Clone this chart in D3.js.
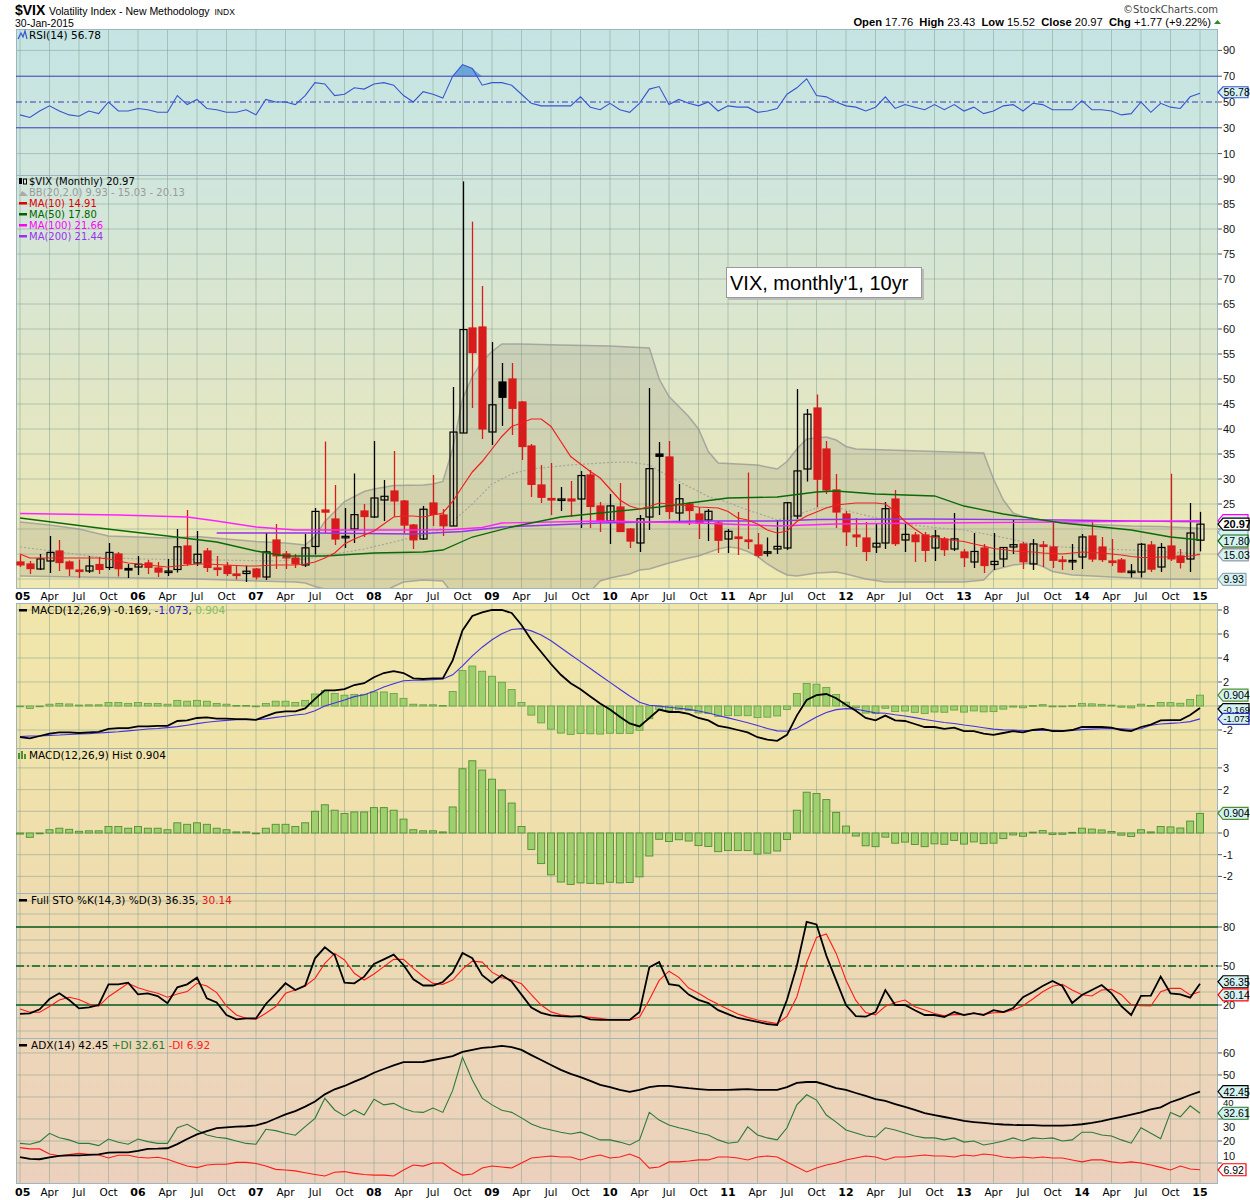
<!DOCTYPE html>
<html><head><meta charset="utf-8">
<script src="https://cdn.jsdelivr.net/npm/d3@7"></script>
<style>body{margin:0;background:#fff}svg{display:block}</style>
</head><body>
<svg id="c" width="1250" height="1200"></svg>
<script>
// ---------------- DATA (monthly, Jan 2005 .. Jan 2015) ----------------
const yearLabels = ["05","06","07","08","09","10","11","12","13","14","15"];
const quarterLabels = ["Apr","Jul","Oct"];

const open = [13.4,13.0,12.0,13.6,15.6,13.4,11.8,11.6,12.9,12.3,15.0,12.1,
12.4,13.2,12.2,11.4,11.9,16.6,13.2,15.6,12.2,12.6,11.0,11.1,
12.0,10.4,17.8,15.0,14.2,12.8,16.5,23.8,22.0,18.4,20.0,23.6,
22.4,25.8,27.6,25.6,20.8,18.0,25.2,22.8,20.6,39.2,60.2,60.4,
39.4,49.4,50.0,45.4,36.6,28.8,26.1,26.0,26.0,26.0,30.8,24.6,
21.6,24.4,20.0,17.2,22.4,35.0,34.4,23.2,25.0,23.0,21.8,21.2,
18.0,18.4,17.8,16.8,15.2,16.0,16.2,22.6,32.0,44.2,36.0,27.8,
23.0,18.8,18.2,16.4,17.2,26.0,17.8,18.8,18.8,16.2,18.0,16.0,
15.4,13.4,16.2,12.9,14.0,16.4,17.0,13.0,16.8,16.4,13.8,13.7,
14.4,18.6,16.4,13.6,13.8,11.5,11.4,16.8,12.4,16.6,14.6,14.0,
17.76];
const high = [14.8,13.6,15.0,18.6,17.8,13.7,13.9,14.6,14.4,17.2,15.4,13.0,
14.6,13.8,13.4,14.0,20.0,23.8,19.6,16.2,14.6,13.4,12.6,12.7,
12.2,19.2,21.0,15.6,15.0,19.0,24.2,37.5,28.8,24.2,31.1,25.0,
37.6,29.8,35.6,25.8,21.0,24.6,30.8,24.0,48.4,89.53,81.48,68.6,
57.4,53.2,53.2,45.6,37.0,32.8,33.2,28.4,29.6,31.6,31.8,25.4,
27.0,29.2,20.2,22.8,48.2,37.4,37.6,29.0,25.4,24.4,24.0,21.6,
20.0,23.4,31.3,19.2,18.3,21.8,25.4,48.0,44.0,46.9,37.6,31.0,
23.6,22.2,21.4,21.2,25.4,27.8,21.2,19.4,19.4,19.8,18.4,23.2,
16.0,19.2,17.0,19.2,16.4,22.0,17.4,18.0,17.6,21.2,14.6,17.0,
19.0,21.6,18.4,18.0,14.2,13.0,17.2,17.6,17.2,31.06,16.0,25.2,
23.43];
const low = [12.4,11.0,11.8,11.2,11.6,10.6,10.2,11.2,11.0,11.8,10.5,10.2,
10.8,11.0,10.4,10.6,11.3,12.6,12.6,11.4,10.6,10.6,9.9,9.4,
9.9,9.8,12.0,12.0,12.2,12.4,14.9,19.2,16.8,16.2,17.2,18.4,
22.2,21.6,22.4,19.2,16.0,17.8,20.6,18.6,20.6,39.2,44.2,38.0,
36.8,40.6,38.8,33.8,26.4,25.2,22.8,23.6,22.4,20.2,20.2,19.4,
17.0,19.4,16.2,15.4,19.8,22.8,22.0,21.2,20.8,18.0,17.6,15.2,
15.2,14.8,16.0,14.3,14.5,15.0,15.8,22.0,29.5,24.4,27.0,20.2,
16.6,16.4,13.6,15.2,16.0,16.6,15.4,13.4,13.4,13.6,14.6,15.6,
12.4,12.2,11.2,11.8,12.4,15.0,12.0,11.8,12.4,12.2,11.8,11.8,
12.0,13.4,13.4,12.6,11.2,10.3,10.3,11.4,11.4,13.6,12.1,11.4,
15.52];
const close = [12.82,12.08,14.02,15.31,13.29,12.04,11.57,12.60,11.92,15.32,12.06,12.07,
12.95,12.34,11.39,11.59,16.44,13.08,14.95,12.31,11.98,11.10,10.91,11.56,
10.42,15.42,14.64,14.22,13.05,16.23,23.52,23.38,18.00,18.53,22.87,22.50,
26.20,26.54,25.61,20.79,17.83,23.95,22.94,20.65,39.39,59.89,55.28,40.00,
44.84,46.35,44.14,36.50,28.92,26.35,25.92,26.01,25.61,30.69,24.51,21.68,
24.62,19.50,17.59,22.05,32.07,34.54,23.50,26.05,23.70,21.20,23.54,17.75,
19.53,18.35,17.74,14.75,15.45,16.52,25.25,31.62,42.96,29.96,27.80,23.40,
19.44,18.43,15.50,17.15,24.06,17.08,18.93,17.47,15.73,18.60,15.87,18.02,
14.28,15.51,12.70,13.52,16.30,16.86,13.45,17.01,16.60,13.75,13.70,13.72,
18.41,14.00,13.88,13.41,11.40,11.57,16.95,11.98,16.31,14.03,13.33,19.20,
20.97];
const prevClose0 = 13.29;

const rsi = [40,38,43,47,43,40,39,43,41,50,43,43,
45,44,42,42,55,48,52,45,44,42,42,44,
40,52,50,50,48,55,65,64,55,56,61,60,
64,65,63,55,50,58,56,53,70,79,76,63,
65,65,63,56,49,47,47,47,47,54,46,44,
49,44,42,49,60,62,48,52,49,47,50,43,
47,46,46,42,43,45,56,61,68,55,54,50,
47,46,43,46,54,45,48,46,44,48,44,48,
43,46,41,43,47,48,43,49,48,44,44,44,
51,44,44,43,40,41,50,42,49,46,45,54,
56.78];

const ma10 = [15.0,14.2,14.2,14.2,14.2,14.2,14.2,14.2,14.2,14.0,13.6,13.2,
13.0,12.8,12.6,12.4,12.6,12.8,13.0,13.0,12.9,12.8,12.7,12.6,
12.6,12.7,12.8,12.8,12.8,13.0,13.4,14.2,15.2,17.0,18.0,18.8,
19.6,21.0,22.4,22.6,22.6,22.4,22.8,23.2,25.5,28.5,31.4,33.5,
36.0,38.5,40.5,41.2,42.0,42.0,40.5,37.5,34.5,33.0,31.5,30.2,
28.0,25.8,24.6,24.0,24.5,25.2,25.0,24.8,24.6,24.4,24.3,24.2,
23.5,22.2,21.8,21.0,19.8,19.2,19.6,21.5,22.6,23.4,24.2,24.8,
25.0,25.2,25.2,25.2,25.0,23.5,21.5,20.0,18.7,18.3,18.0,17.7,
17.5,17.0,16.6,16.1,15.9,15.6,15.5,15.4,15.2,15.1,15.0,15.2,
15.4,15.3,15.2,15.0,14.8,14.5,14.3,14.3,14.4,14.4,14.4,14.6,
14.91];
const ma50 = [[0,22.2],[8,20.2],[15,18.6],[20,17.4],[24,15.6],[27,14.6],[31,14.6],[36,15.2],[41,15.4],[43,15.8],[46,18.4],[50,20.4],[55,22.4],[60,23.4],[65,24.4],[72,26.2],[77,26.4],[81,27.4],[83,27.6],[87,27.0],[93,26.6],[96,24.6],[100,23.0],[106,21.2],[113,19.8],[117,18.4],[120,17.8]];
const ma100 = [[0,23.1],[10,22.8],[17,22.4],[20,21.6],[24,20.4],[28,19.8],[41,19.8],[44,19.9],[47,20.3],[49,21.2],[59,21.6],[69,21.2],[77,20.6],[80,20.8],[83,21.0],[93,21.2],[106,21.4],[120,21.66]];
const ma200 = [[20,19.2],[30,19.2],[40,19.0],[45,19.5],[49,20.4],[59,21.2],[69,21.6],[77,21.6],[81,21.9],[92,22.0],[106,21.8],[120,21.44]];
const bbUpper = [[0,21.4],[3,20.8],[6,20.0],[9,18.6],[12,18.4],[15,18.2],[18,18.5],[21,18.0],[24,17.5],[27,17.2],[29,16.8],[30,18.5],[31,21.5],[32,23.5],[33,25.5],[34,26.5],[35,27.5],[36,28.0],[38,28.7],[41,28.8],[42,29.0],[43,29.5],[44,36.0],[45,46.0],[46,50.5],[47,53.5],[48,55.5],[49,57.0],[51,57.0],[55,56.8],[60,56.6],[64,56.2],[65,50.0],[66,46.5],[67,44.5],[68,42.5],[69,40.0],[70,35.5],[71,33.2],[75,32.8],[77,32.0],[78,33.5],[79,36.0],[80,38.0],[82,38.4],[83,37.8],[84,36.5],[85,36.0],[98,35.2],[99,30.0],[100,25.8],[101,23.2],[102,22.5],[104,21.7],[106,21.2],[108,21.0],[113,20.6],[116,20.5],[120,20.13]];
const bbMid = [[0,16.4],[4,15.4],[8,14.4],[12,14.0],[20,13.8],[26,13.6],[29,14.0],[32,15.0],[35,16.0],[38,17.4],[40,18.4],[42,19.2],[44,21.5],[46,25.0],[48,29.0],[50,31.0],[52,32.0],[56,32.8],[60,33.3],[62,33.4],[64,32.8],[66,30.5],[68,28.5],[70,26.5],[72,25.3],[74,23.8],[76,22.5],[77,21.8],[79,22.8],[81,24.2],[83,24.4],[85,23.2],[88,21.8],[90,21.0],[93,20.3],[96,19.8],[100,18.3],[103,17.0],[106,16.4],[110,16.0],[113,15.8],[117,15.4],[120,15.03]];
const bbLower = [[0,10.6],[6,10.4],[12,10.2],[18,10.0],[24,9.6],[28,9.4],[29,9.2],[30,8.5],[31,8.0],[32,7.0],[34,6.0],[36,6.5],[38,8.5],[39,9.4],[41,9.8],[43,9.6],[44,7.0],[45,0],[46,-3],[50,-4],[54,-2],[56,2],[57,5],[58,7.5],[59,9.6],[60,10.2],[62,11.0],[63,11.8],[64,12.0],[66,13.2],[68,14.2],[69,14.6],[71,16.0],[72,16.4],[73,16.2],[74,15.5],[75,14.5],[76,13.0],[77,11.8],[78,10.8],[79,10.6],[81,11.2],[83,11.4],[84,11.0],[86,10.0],[88,9.4],[96,9.4],[97,9.6],[98,9.8],[99,11.8],[101,12.8],[103,13.2],[104,12.5],[105,11.5],[107,10.8],[110,10.5],[115,10.0],[120,9.93]];

const macd = [-2.6,-2.7,-2.5,-2.3,-2.2,-2.2,-2.25,-2.2,-2.15,-1.9,-1.85,-1.85,
-1.7,-1.7,-1.65,-1.65,-1.25,-1.2,-1.0,-0.95,-1.05,-1.05,-1.1,-1.1,
-1.15,-0.85,-0.55,-0.45,-0.45,-0.2,0.6,1.3,1.3,1.4,1.75,1.9,
2.4,2.75,2.9,2.75,2.3,2.25,2.3,2.3,3.8,6.3,7.5,7.8,
8.0,8.0,7.75,6.75,5.5,4.5,3.5,2.6,1.9,1.4,0.8,0.2,
-0.3,-0.9,-1.45,-1.7,-1.0,-0.3,-0.5,-0.5,-0.65,-1.0,-1.2,-1.65,
-1.8,-2.0,-2.2,-2.6,-2.8,-2.9,-2.4,-0.8,0.5,0.9,1.0,0.65,
0.1,-0.4,-1.0,-1.2,-0.8,-1.2,-1.25,-1.5,-1.75,-1.75,-1.9,-1.8,
-2.1,-2.1,-2.3,-2.4,-2.25,-2.1,-2.2,-2.0,-1.9,-2.1,-2.1,-2.0,
-1.75,-1.75,-1.75,-1.8,-2.0,-2.1,-1.75,-1.55,-1.2,-1.17,-1.17,-0.75,
-0.169];
const signal = [-2.55,-2.5,-2.5,-2.45,-2.42,-2.37,-2.33,-2.3,-2.25,-2.2,-2.15,-2.07,
-2.0,-1.92,-1.87,-1.8,-1.72,-1.6,-1.47,-1.35,-1.27,-1.2,-1.15,-1.15,
-1.15,-1.07,-0.95,-0.85,-0.75,-0.67,-0.4,0.0,0.25,0.5,0.78,0.93,
1.23,1.58,1.85,2.11,2.15,2.15,2.2,2.25,2.6,3.34,4.17,4.9,
5.52,6.02,6.37,6.45,6.26,5.91,5.43,4.86,4.27,3.7,3.12,2.54,
1.97,1.4,0.83,0.32,0.06,-0.01,-0.11,-0.19,-0.28,-0.42,-0.58,-0.79,
-0.99,-1.19,-1.39,-1.63,-1.87,-2.07,-2.11,-1.85,-1.38,-0.92,-0.54,-0.3,
-0.22,-0.26,-0.41,-0.57,-0.61,-0.73,-0.83,-0.97,-1.12,-1.25,-1.38,-1.46,
-1.59,-1.69,-1.81,-1.93,-1.99,-2.01,-2.05,-2.04,-2.01,-2.03,-2.04,-2.03,
-1.97,-1.93,-1.89,-1.87,-1.9,-1.94,-1.9,-1.6,-1.5,-1.45,-1.4,-1.3,
-1.073];
const hist = [-0.05,-0.2,0.0,0.15,0.22,0.17,0.08,0.1,0.1,0.3,0.3,0.22,
0.3,0.22,0.22,0.15,0.47,0.4,0.47,0.4,0.22,0.15,0.05,0.05,
0.0,0.22,0.4,0.4,0.3,0.47,1.0,1.3,1.05,0.9,0.97,0.97,
1.17,1.17,1.05,0.64,0.15,0.1,0.1,0.05,1.2,2.96,3.33,2.9,
2.48,1.98,1.38,0.3,-0.76,-1.41,-1.93,-2.26,-2.37,-2.3,-2.32,-2.34,
-2.27,-2.3,-2.28,-2.02,-1.06,-0.29,-0.39,-0.31,-0.37,-0.58,-0.62,-0.86,
-0.81,-0.81,-0.81,-0.97,-0.93,-0.83,-0.3,1.05,1.88,1.82,1.54,0.95,
0.32,-0.14,-0.59,-0.63,-0.19,-0.47,-0.42,-0.53,-0.63,-0.5,-0.52,-0.34,
-0.51,-0.41,-0.49,-0.47,-0.26,-0.09,-0.15,0.04,0.11,-0.07,-0.06,0.03,
0.22,0.18,0.14,0.07,-0.1,-0.16,0.15,0.05,0.3,0.28,0.23,0.55,
0.904];

const stoK = [13.1,13.6,16.7,24.6,29,23.8,17.4,18.2,20,35.9,35.9,37.2,
28.2,29,26.9,21.3,33.6,35.9,41,25.1,22,12.3,9,9.7,
9.7,20.8,28.5,36.7,31.5,34.9,55.9,64.4,58.5,37.2,36.7,41.8,
51.5,55.1,58.7,50.8,39.8,35,35,37.7,45,60,56,43,
37,43,38,28,18,14,12,11.5,11,11.5,9,8.5,
8.5,8.5,8.5,14.6,49,53,36,35,28,24,21.5,16,
13,10,8.5,7,5.4,4.6,24,50,84,82,58,39,
20,11.5,11,14.6,31.5,20,20,16,12.3,12.3,10.8,14.6,
12.3,13.8,12.3,16,14.6,17.7,26,30,34.6,38.5,34.6,21.5,
27.7,31.5,35.4,29,19.2,12.3,27,27.2,41.8,29,28.2,25.6,
36.35];
const stoD = [17,14.5,14.4,18.8,23.8,26,24.3,20.8,19.2,26.4,31.5,36.7,
33.3,31,29,26,28.5,30.3,36.7,34.6,29.5,19.2,12.3,9.7,
9,13.6,18.8,29,31.5,34.6,40.5,52,59.7,54.6,44.4,39.2,
43.8,49.5,55.1,55.1,48.2,41.9,36.6,35.9,39.2,47.6,53.7,53,
45.3,41,39.3,36.3,28,20,14.7,12.5,11.5,11.3,10.5,9.7,
8.7,8.5,8.5,10.5,24,38.9,46,41.3,33,29,24.5,20.5,
16.8,13,10.5,8.5,7,5.7,11.3,26.2,52.7,72,74.7,59.7,
39,23.5,14.2,12.4,19,22,23.8,18.7,16.1,13.5,11.8,12.6,
12.6,13.6,12.8,14,14.3,16.1,19.4,24.6,30.2,34.4,35.9,31.5,
27.9,26.9,31.5,32,27.9,20.2,19.5,19.2,30.3,32.8,32.8,27.7,
30.14];

const adx = [12.7,11.9,11.7,12.6,13.2,13.5,13.5,13.7,13.9,14.7,14.8,14.8,
15.5,16.4,16.5,16.7,18.6,20.9,23,24.5,25.8,26.2,26.5,26.7,
27.1,28.3,30.2,32.1,33.6,35.6,37.9,41.2,43.5,45,47,48.8,
51,52.7,54.4,55.8,55.8,55.9,56.8,57.7,58.6,60.5,61.4,62.3,
62.7,63.2,62.7,61.4,59,56.8,54.5,52.3,50.5,49,47.3,45.5,
44.5,43.2,42.3,43.2,44.5,45,45,44.5,44,43.6,43.2,43.2,
43.2,43.4,43.6,43.2,43.2,43.2,44.5,46.4,46.8,46.8,45.5,44,
43.2,41.8,40.5,39,38.2,36.8,35.5,34.1,32.7,31.8,30.9,30,
29.1,28.6,28.2,27.8,27.5,27.3,27.2,27.2,27,27,27,27.2,
27.6,28.2,29,30,31,32,33,34.4,35.3,37.6,39.1,40.9,
42.45];
const plusDI = [18.9,18.5,19.7,23.5,21.5,20.5,18.9,18.9,17.9,20.9,19.4,18.5,
20.9,19.7,18.9,18.9,26,27.6,25,22.7,21.7,21.2,20,18.9,
18.5,25.3,24.7,23.5,22.6,26.5,30.3,39.4,34.1,31.4,34.1,31.8,
39,36.4,37.1,34.8,33.3,33,35,33,43,58,47.7,39.5,
36.4,34,33,30.5,27.7,26,25,24,23.2,24,22.3,20.5,
20.5,19.5,18.2,20.5,33,29.5,27.3,26,25,23.6,22.7,20.5,
19,19.5,26.4,22.7,21.4,20.5,26,36.4,41,38.6,31.8,28.6,
25,23.6,22.3,21.8,26,25,23.6,22.3,21.4,21.4,20.5,21.4,
19.5,20,18.2,19,20,21.4,20,21.4,21,21.4,20,20.5,
24,24,22.7,22.3,20.5,19,26,23.5,21,33,31,36,
32.61];
const minusDI = [17,16.4,16.4,14.1,13.3,13.8,14.4,14,13.6,12.3,13.5,13.5,
12.6,12.3,12.6,11.7,10.1,8.6,7.9,9.1,9.4,9.4,10.3,10.3,
9.8,8.6,7.1,6.8,6.4,5.6,4.8,4.1,5.8,6.1,5.3,4.8,
4.5,4.5,4.1,6.8,9.1,8.6,10,10,6.8,4.5,5,7.7,
8.6,8.2,7.7,10,12.3,12.7,13.2,12.7,12.7,11.4,12.7,13.6,
12.3,12.7,14.1,12.3,7.7,8.2,10.5,10.5,10.9,11.4,11.4,12.7,
12.7,12.3,11.4,12.7,13.2,12.7,10.5,8.2,5.9,7.7,9.1,10,
11.4,12.3,13.2,12.7,11.4,12.7,12.7,13.2,13.6,13.2,13.2,12.7,
13.6,13.2,14.1,13.6,12.7,12.3,12.7,12.3,12.7,12.3,12.3,11.4,
10.5,11.4,11.4,10.5,10,10.5,10,9.1,8.0,6.8,8.6,7.3,
6.92];

// ticks (labels hidden by value tags in the reference are left out)
const rsiTicks = [10,30,50,70,90];
const mainTicks = [25,30,35,40,45,50,55,60,65,70,75,80,85,90];
const mainGrid = [10,15,20,25,30,35,40,45,50,55,60,65,70,75,80,85,90];
const macdTicks = [8,6,4,2,-2];
const histTicks = [3,2,0,-1,-2];
const stoTicks = [80,50,20];
const adxTicks = [60,50,20];

// ---------------- DRAWING ----------------
const svg = d3.select("#c");
const FONT = "'DejaVu Sans', Verdana, sans-serif";
const ARIAL = "'Liberation Sans', Arial, sans-serif";
const L = 16, R = 1218;
const x = d3.scaleLinear().domain([0, 120]).range([20, 1200]);
const N = close.length;
const idx = d3.range(N);

const defs = svg.append("defs");
const grad = defs.append("linearGradient").attr("id","bg").attr("gradientUnits","userSpaceOnUse")
  .attr("x1",0).attr("y1",29).attr("x2",0).attr("y2",1183);
[[0,"#c4e4e3"],[0.1265,"#d0e6dd"],[0.30,"#dfe6c8"],[0.484,"#efe8b1"],[0.497,"#f0e6ab"],
 [0.623,"#f0e3aa"],[0.749,"#eedcb0"],[0.874,"#edd6b8"],[1,"#ebd1bd"]]
 .forEach(s => grad.append("stop").attr("offset", s[0]).attr("stop-color", s[1]));

const gridCol = "rgba(120,150,135,0.45)";
function makePanel(name, top, bottom, domain, gridVals, tickVals, tickOnly) {
  const y = d3.scaleLinear().domain(domain).range([bottom, top]);
  const g = svg.append("g");
  defs.append("clipPath").attr("id", "clip-" + name).append("rect")
    .attr("x", L).attr("y", top).attr("width", R - L).attr("height", bottom - top);
  g.append("rect").attr("x", L).attr("y", top).attr("width", R - L).attr("height", bottom - top).attr("fill", "url(#bg)");
  for (let i = 0; i <= 120; i += 3) {
    g.append("line").attr("x1", x(i)).attr("x2", x(i)).attr("y1", top).attr("y2", bottom)
      .attr("stroke", gridCol).attr("stroke-width", 1);
  }
  gridVals.forEach(v => {
    g.append("line").attr("x1", L).attr("x2", R).attr("y1", y(v)).attr("y2", y(v))
      .attr("stroke", gridCol).attr("stroke-width", 1);
  });
  g.append("rect").attr("x", L + 0.5).attr("y", top + 0.5).attr("width", R - L - 1).attr("height", bottom - top)
    .attr("fill", "none").attr("stroke", "#9db5bd").attr("stroke-width", 1);
  (tickOnly || []).concat(tickVals).forEach(v => {
    svg.append("line").attr("x1", R).attr("x2", R + 4).attr("y1", y(v)).attr("y2", y(v)).attr("stroke", "#555");
  });
  tickVals.forEach(v => {
    svg.append("text").attr("x", R + 5).attr("y", y(v) + 4).text(v)
      .attr("font-family", ARIAL).attr("font-size", 11).attr("fill", "#111");
  });
  const inner = svg.append("g").attr("clip-path", "url(#clip-" + name + ")");
  return { y, g: inner, top, bottom };
}

// header
svg.append("text").attr("x", 15).attr("y", 15).attr("font-family", ARIAL).attr("font-size", 14).attr("font-weight", "bold").text("$VIX");
const sub = svg.append("text").attr("x", 49).attr("y", 15).attr("font-family", ARIAL).attr("font-size", 10.5).text("Volatility Index - New Methodology");
const subEnd = 49 + sub.node().getComputedTextLength();
svg.append("text").attr("x", subEnd + 5).attr("y", 15).attr("font-family", ARIAL).attr("font-size", 8.5).text("INDX");
svg.append("text").attr("x", 15).attr("y", 27).attr("font-family", ARIAL).attr("font-size", 10.5).text("30-Jan-2015");
svg.append("text").attr("x", 1218).attr("y", 13).attr("text-anchor", "end").attr("font-family", FONT).attr("font-size", 10).attr("fill", "#444").text("\u00A9StockCharts.com");
const hdr = svg.append("text").attr("x", 1211).attr("y", 26).attr("text-anchor", "end").attr("font-family", ARIAL).attr("font-size", 11.2);
[["Open ",1],["17.76  ",0],["High ",1],["23.43  ",0],["Low ",1],["15.52  ",0],["Close ",1],["20.97  ",0],["Chg ",1],["+1.77 (+9.22%)",0]]
  .forEach(p => hdr.append("tspan").attr("font-weight", p[1] ? "bold" : "normal").attr("xml:space","preserve").text(p[0]));
svg.append("path").attr("d", "M1214,24 L1221,24 L1217.5,20 Z").attr("fill", "#2a8a2a");

// ---------- RSI panel ----------
const P1 = makePanel("rsi", 29, 175, [-6.6, 106.6], [10, 90], rsiTicks);
const rsiPts = idx.map(i => [i, rsi[i]]);
P1.g.append("path").datum(rsiPts)
  .attr("d", d3.area().x(d => x(d[0])).y0(P1.y(70)).y1(d => P1.y(Math.max(d[1], 70))))
  .attr("fill", "#5d9ad6").attr("opacity", 0.85);
[[70, null], [30, null], [50, "6,3,2,3"]].forEach(l => {
  P1.g.append("line").attr("x1", L).attr("x2", R).attr("y1", P1.y(l[0])).attr("y2", P1.y(l[0]))
    .attr("stroke", "#3a3ab8").attr("stroke-width", 1).attr("stroke-dasharray", l[1]);
});
P1.g.append("path").datum(rsiPts).attr("d", d3.line().x(d => x(d[0])).y(d => P1.y(d[1])))
  .attr("fill", "none").attr("stroke", "#3656d0").attr("stroke-width", 1.1);
svg.append("path").attr("d", "M18,39 L21,33 L23,37 L25,31 L27,39").attr("fill", "none").attr("stroke", "#3656d0").attr("stroke-width", 1.2);
svg.append("text").attr("x", 29).attr("y", 39).attr("font-family", FONT).attr("font-size", 10.5).text("RSI(14) 56.78");

// ---------- Main panel ----------
const P2 = makePanel("main", 175, 588, [8.2, 90.8], mainGrid, mainTicks, [10, 15, 20]);
const ym = P2.y;
const lineM = d3.line().x(d => x(d[0])).y(d => ym(d[1]));
const bandPath = lineM(bbUpper) + "L" + bbLower.slice().reverse().map(d => x(d[0]) + "," + ym(d[1])).join("L") + "Z";
P2.g.append("path").attr("d", bandPath).attr("fill", "rgba(135,135,125,0.22)");
P2.g.append("path").attr("d", lineM(bbUpper)).attr("fill", "none").attr("stroke", "rgba(150,150,150,0.75)").attr("stroke-width", 1.5);
P2.g.append("path").attr("d", lineM(bbLower)).attr("fill", "none").attr("stroke", "rgba(150,150,150,0.75)").attr("stroke-width", 1.5);
P2.g.append("path").attr("d", lineM(bbMid)).attr("fill", "none").attr("stroke", "rgba(160,160,160,0.9)").attr("stroke-width", 1.2).attr("stroke-dasharray", "2,2");

const cw = 7;
idx.forEach(i => {
  const pc = i === 0 ? prevClose0 : close[i - 1];
  const col = close[i] >= pc ? "#000" : "#d81c1c";
  const filled = close[i] < open[i];
  const cx = Math.round(x(i)) + 0.5;
  P2.g.append("line").attr("x1", cx).attr("x2", cx).attr("y1", ym(high[i])).attr("y2", ym(low[i]))
    .attr("stroke", col).attr("stroke-width", 1.3);
  const yt = ym(Math.max(open[i], close[i])), yb = ym(Math.min(open[i], close[i]));
  const h = Math.max(yb - yt, 1.5);
  P2.g.append("rect").attr("x", cx - cw / 2).attr("y", yt).attr("width", cw).attr("height", h)
    .attr("fill", filled ? col : "none").attr("stroke", col).attr("stroke-width", 1.2);
});
P2.g.append("path").attr("d", lineM(ma200)).attr("fill", "none").attr("stroke", "#9333f0").attr("stroke-width", 1.3);
P2.g.append("path").attr("d", lineM(ma100)).attr("fill", "none").attr("stroke", "#ff22ff").attr("stroke-width", 1.3);
P2.g.append("path").attr("d", lineM(ma50)).attr("fill", "none").attr("stroke", "#0a6a0a").attr("stroke-width", 1.3);
P2.g.append("path").attr("d", lineM(idx.map(i => [i, ma10[i]]))).attr("fill", "none").attr("stroke", "#f02020").attr("stroke-width", 1.2);

const leg = [["$VIX (Monthly) 20.97", "#000"], ["BB(20,2.0) 9.93 - 15.03 - 20.13", "#9a9a9a"], ["MA(10) 14.91", "#e00000"],
  ["MA(50) 17.80", "#006400"], ["MA(100) 21.66", "#ff00ff"], ["MA(200) 21.44", "#9933ee"]];
leg.forEach((l, k) => {
  const yy = 185 + k * 11;
  svg.append("text").attr("x", 29).attr("y", yy).attr("font-family", FONT).attr("font-size", 10).attr("fill", l[1]).text(l[0]);
  if (k >= 2) svg.append("rect").attr("x", 19).attr("y", yy - 5).attr("width", 8).attr("height", 2.5).attr("fill", l[1]);
});
svg.append("rect").attr("x", 19).attr("y", 178).attr("width", 3).attr("height", 6).attr("fill", "#000");
svg.append("rect").attr("x", 23.5).attr("y", 179).attr("width", 3).attr("height", 5).attr("fill", "none").attr("stroke", "#000");
svg.append("path").attr("d", "M19,196 L22,191 L25,193 L28,196 Z").attr("fill", "#aaa");

svg.append("rect").attr("x", 728).attr("y", 269).attr("width", 196).attr("height", 31).attr("fill", "#bbb");
svg.append("rect").attr("x", 726.5).attr("y", 267.5).attr("width", 195).attr("height", 30).attr("fill", "#fff").attr("stroke", "#999");
svg.append("text").attr("x", 730).attr("y", 290).attr("font-family", ARIAL).attr("font-size", 20).text("VIX, monthly'1, 10yr");

function xLabels(yb) {
  for (let i = 0; i <= 120; i += 3) {
    const yr = i % 12 === 0;
    const t = yr ? yearLabels[i / 12] : quarterLabels[(i % 12) / 3 - 1];
    svg.append("text").attr("x", yr && i === 0 ? 15 : x(i)).attr("y", yb).attr("text-anchor", yr && i === 0 ? "start" : "middle")
      .attr("font-family", FONT).attr("font-size", yr ? 11 : 10.5).attr("font-weight", yr ? "bold" : "normal").text(t);
  }
}
xLabels(600);
xLabels(1196);

// ---------- MACD panel ----------
const P3 = makePanel("macd", 603, 748, [-3.5, 8.583], [8, 6, 4, 2, 0, -2], macdTicks, [0]);
idx.forEach(i => {
  const y0 = P3.y(0), y1 = P3.y(hist[i]);
  P3.g.append("rect").attr("x", x(i) - 3.5).attr("y", Math.min(y0, y1)).attr("width", 7).attr("height", Math.max(Math.abs(y1 - y0), 0.8))
    .attr("fill", "#9fcf6f").attr("stroke", "#5f9f3f").attr("stroke-width", 0.8);
});
const l3 = d3.line().x(d => x(d[0])).y(d => P3.y(d[1]));
P3.g.append("path").attr("d", l3(idx.map(i => [i, signal[i]]))).attr("fill", "none").attr("stroke", "#4433dd").attr("stroke-width", 1.1);
P3.g.append("path").attr("d", l3(idx.map(i => [i, macd[i]]))).attr("fill", "none").attr("stroke", "#000").attr("stroke-width", 1.8);
svg.append("rect").attr("x", 19).attr("y", 609).attr("width", 8).attr("height", 2.5).attr("fill", "#000");
const t3 = svg.append("text").attr("x", 31).attr("y", 614).attr("font-family", FONT).attr("font-size", 10.5);
t3.append("tspan").text("MACD(12,26,9) -0.169, ");
t3.append("tspan").attr("fill", "#2222cc").text("-1.073");
t3.append("tspan").text(", ");
t3.append("tspan").attr("fill", "#7fc05f").text("0.904");

// ---------- Histogram panel ----------
const P4 = makePanel("hist", 748, 893, [-2.765, 3.917], [3, 2, 1, 0, -1, -2], histTicks, [1]);
idx.forEach(i => {
  const y0 = P4.y(0), y1 = P4.y(hist[i]);
  P4.g.append("rect").attr("x", x(i) - 3.5).attr("y", Math.min(y0, y1)).attr("width", 7).attr("height", Math.max(Math.abs(y1 - y0), 0.8))
    .attr("fill", "#9fcf6f").attr("stroke", "#4f8f2f").attr("stroke-width", 0.9);
});
svg.append("rect").attr("x", 18).attr("y", 753).attr("width", 2).attr("height", 6).attr("fill", "#4f8f2f");
svg.append("rect").attr("x", 21).attr("y", 751).attr("width", 2).attr("height", 8).attr("fill", "#4f8f2f");
svg.append("rect").attr("x", 24).attr("y", 754).attr("width", 2).attr("height", 5).attr("fill", "#4f8f2f");
svg.append("text").attr("x", 29).attr("y", 759).attr("font-family", FONT).attr("font-size", 10.5).text("MACD(12,26,9) Hist 0.904");

// ---------- STO panel ----------
const P5 = makePanel("sto", 893, 1038, [-5.38, 106.15], [0, 10, 20, 30, 40, 50, 60, 70, 80, 90, 100], stoTicks);
[[80, null], [50, "8,3,2,3"], [20, null]].forEach(l => {
  P5.g.append("line").attr("x1", L).attr("x2", R).attr("y1", P5.y(l[0])).attr("y2", P5.y(l[0]))
    .attr("stroke", "#0b5d1e").attr("stroke-width", 1.3).attr("stroke-dasharray", l[1]);
});
const l5 = d3.line().x(d => x(d[0])).y(d => P5.y(d[1]));
P5.g.append("path").attr("d", l5(idx.map(i => [i, stoD[i]]))).attr("fill", "none").attr("stroke", "#ff1a1a").attr("stroke-width", 1.1);
P5.g.append("path").attr("d", l5(idx.map(i => [i, stoK[i]]))).attr("fill", "none").attr("stroke", "#000").attr("stroke-width", 1.8);
svg.append("rect").attr("x", 19).attr("y", 899).attr("width", 8).attr("height", 2.5).attr("fill", "#000");
const t5 = svg.append("text").attr("x", 31).attr("y", 904).attr("font-family", FONT).attr("font-size", 10.5);
t5.append("tspan").text("Full STO %K(14,3) %D(3) 36.35, ");
t5.append("tspan").attr("fill", "#ee1111").text("30.14");

// ---------- ADX panel ----------
const P6 = makePanel("adx", 1038, 1183, [0.91, 66.8], [10, 20, 30, 40, 50, 60], adxTicks, [40, 30, 10]);
const l6 = d3.line().x(d => x(d[0])).y(d => P6.y(d[1]));
P6.g.append("path").attr("d", l6(idx.map(i => [i, minusDI[i]]))).attr("fill", "none").attr("stroke", "#ff1a1a").attr("stroke-width", 1.1);
P6.g.append("path").attr("d", l6(idx.map(i => [i, plusDI[i]]))).attr("fill", "none").attr("stroke", "#2a7a3a").attr("stroke-width", 1.1);
P6.g.append("path").attr("d", l6(idx.map(i => [i, adx[i]]))).attr("fill", "none").attr("stroke", "#000").attr("stroke-width", 1.8);
svg.append("rect").attr("x", 19).attr("y", 1044).attr("width", 8).attr("height", 2.5).attr("fill", "#000");
const t6 = svg.append("text").attr("x", 31).attr("y", 1049).attr("font-family", FONT).attr("font-size", 10.5);
t6.append("tspan").text("ADX(14) 42.45 ");
t6.append("tspan").attr("fill", "#1e7a30").text("+DI 32.61 ");
t6.append("tspan").attr("fill", "#ff2222").text("-DI 6.92");
[[40, 5, 9.5], [30, 8, 11], [10, -7, 11]].forEach(p => {
  svg.append("text").attr("x", R + 5).attr("y", P6.y(p[0]) + 4 + p[1]).attr("font-family", ARIAL).attr("font-size", p[2]).attr("fill", "#111").text(p[0]);
});

// ---------- right-axis value tags ----------
function tag(y, text, fill, stroke, opts = {}) {
  const w = opts.w || 30, h = opts.h || 12, x0 = R;
  svg.append("path").attr("d", `M${x0},${y} L${x0 + 5},${y - h / 2} L${x0 + w},${y - h / 2} L${x0 + w},${y + h / 2} L${x0 + 5},${y + h / 2} Z`)
    .attr("fill", fill).attr("stroke", stroke).attr("stroke-width", 1.2);
  if (text) svg.append("text").attr("x", x0 + 5.5).attr("y", y + (opts.dy || 4)).attr("font-family", ARIAL).attr("font-size", opts.fs || 10.5)
    .attr("font-weight", opts.bold ? "bold" : "normal").attr("fill", "#000").text(text);
}
const tagFill = "#d4f2f2";
tag(P1.y(56.78) - 1, "56.78", tagFill, "#3656d0", { h: 11 });
tag(ym(21.66), null, tagFill, "#ff00ff");
tag(ym(20.13) + 4, null, tagFill, "#8fa9b5");
tag(ym(14.91), null, tagFill, "#ff0000");
tag(ym(15.03) + 1, "15.03", tagFill, "#8fa9b5");
tag(ym(9.93), "9.93", tagFill, "#8fa9b5", { w: 28 });
tag(ym(17.80) + 1, "17.80", tagFill, "#0a6a0a");
tag(ym(20.97), "20.97", "#ffffff", "#000", { bold: true, fs: 11, w: 31 });
tag(P3.y(0.904), "0.904", tagFill, "#4f8f2f");
tag(P3.y(-0.169) + 1, "-0.169", tagFill, "#000", { w: 31, fs: 9.3, h: 11, dy: 3.5 });
tag(P3.y(-1.073), "-1.073", tagFill, "#3030cc", { w: 31, fs: 9.3, h: 11, dy: 3.5 });
tag(P4.y(0.904), "0.904", tagFill, "#4f8f2f");
tag(P5.y(36.35) - 2, "36.35", tagFill, "#000");
tag(P5.y(30.14) + 3, "30.14", tagFill, "#ff0000");
tag(P6.y(42.45), "42.45", tagFill, "#000");
tag(P6.y(32.61), "32.61", tagFill, "#1e7a30");
tag(P6.y(6.92), "6.92", "#ffffff", "#ff0000", { w: 28 });
</script>
</body></html>
